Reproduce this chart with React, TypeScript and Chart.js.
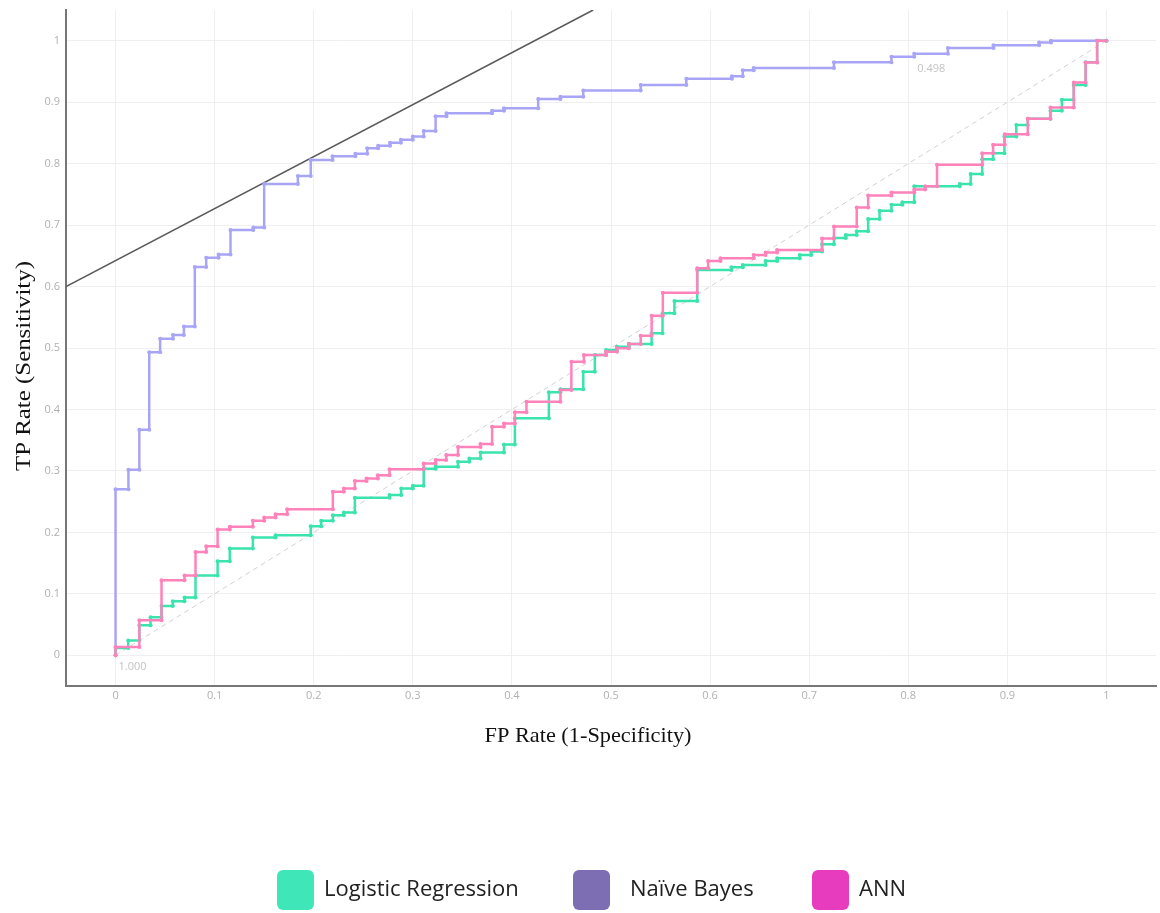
import { useEffect, useRef } from 'react';
import { Chart, registerables } from 'chart.js';

Chart.register(...registerables);

type Pt = [number, number];

// Axis ticks (both axes share the same 0..1 grid)
const axisTicks = [0, 0.1, 0.2, 0.3, 0.4, 0.5, 0.6, 0.7, 0.8, 0.9, 1];
const axisTickLabels = ['0', '0.1', '0.2', '0.3', '0.4', '0.5', '0.6', '0.7', '0.8', '0.9', '1'];

const seriesNames = ['Logistic Regression', 'Naïve Bayes', 'ANN'];
const lineColors = ['#3be3ad', '#a9a5f6', '#ff82ba'];
const legendColors = ['#3ee6b8', '#7d6db2', '#e83cbf'];

// ROC points: [FP rate, TP rate]
const logisticRoc: Pt[] = [
  [0, 0], [0, 0.012], [0.0128, 0.012], [0.0128, 0.024], [0.024, 0.024], [0.024, 0.049],
  [0.0353, 0.049], [0.0353, 0.062], [0.0464, 0.062], [0.0464, 0.08], [0.0578, 0.08], [0.0578, 0.088],
  [0.0696, 0.088], [0.0696, 0.094], [0.0807, 0.094], [0.0807, 0.13], [0.103, 0.13], [0.103, 0.153],
  [0.1153, 0.153], [0.1153, 0.1737], [0.1386, 0.1737], [0.1386, 0.1916], [0.1615, 0.1916], [0.1615, 0.1954],
  [0.197, 0.1954], [0.197, 0.21], [0.2075, 0.21], [0.2075, 0.2188], [0.2193, 0.2188], [0.2193, 0.228],
  [0.2304, 0.228], [0.2304, 0.2324], [0.2415, 0.2324], [0.2415, 0.2565], [0.2765, 0.2565], [0.2765, 0.2606],
  [0.2883, 0.2606], [0.2883, 0.2714], [0.3, 0.2714], [0.3, 0.2758], [0.311, 0.2758], [0.311, 0.3037],
  [0.323, 0.3037], [0.323, 0.3067], [0.3456, 0.3067], [0.3456, 0.315], [0.357, 0.315], [0.357, 0.3203],
  [0.3683, 0.3203], [0.3683, 0.33], [0.392, 0.33], [0.392, 0.343], [0.403, 0.343], [0.403, 0.3855],
  [0.4373, 0.3855], [0.4373, 0.428], [0.449, 0.428], [0.449, 0.4327], [0.472, 0.4327], [0.472, 0.4614],
  [0.4837, 0.4614], [0.4837, 0.4886], [0.495, 0.4886], [0.495, 0.4967], [0.506, 0.4967], [0.506, 0.502],
  [0.518, 0.502], [0.518, 0.5065], [0.541, 0.5065], [0.541, 0.524], [0.552, 0.524], [0.552, 0.5565],
  [0.564, 0.5565], [0.564, 0.5765], [0.587, 0.5765], [0.587, 0.627], [0.6216, 0.627], [0.6216, 0.6314],
  [0.633, 0.6314], [0.633, 0.635], [0.656, 0.635], [0.656, 0.6417], [0.6677, 0.6417], [0.6677, 0.646],
  [0.6905, 0.646], [0.6905, 0.6515], [0.702, 0.6515], [0.702, 0.657], [0.713, 0.657], [0.713, 0.669],
  [0.725, 0.669], [0.725, 0.679], [0.737, 0.679], [0.737, 0.684], [0.748, 0.684], [0.748, 0.69],
  [0.7595, 0.69], [0.7595, 0.71], [0.771, 0.71], [0.771, 0.7235], [0.783, 0.7235], [0.783, 0.733],
  [0.794, 0.733], [0.794, 0.737], [0.806, 0.737], [0.806, 0.763], [0.852, 0.763], [0.852, 0.7667],
  [0.863, 0.7667], [0.863, 0.783], [0.8746, 0.783], [0.8746, 0.807], [0.8856, 0.807], [0.8856, 0.817],
  [0.897, 0.817], [0.897, 0.844], [0.909, 0.844], [0.909, 0.863], [0.9206, 0.863], [0.9206, 0.873],
  [0.9435, 0.873], [0.9435, 0.886], [0.955, 0.886], [0.955, 0.904], [0.967, 0.904], [0.967, 0.928],
  [0.979, 0.928], [0.979, 0.965], [0.9906, 0.965], [0.9906, 1], [1, 1],
];

const naiveBayesRoc: Pt[] = [
  [0, 0], [0, 0.27], [0.013, 0.27], [0.013, 0.302], [0.024, 0.302], [0.024, 0.367],
  [0.034, 0.367], [0.034, 0.493], [0.045, 0.493], [0.045, 0.515], [0.058, 0.515], [0.058, 0.521],
  [0.069, 0.521], [0.069, 0.535], [0.08, 0.535], [0.08, 0.632], [0.0915, 0.632], [0.0915, 0.647],
  [0.104, 0.647], [0.104, 0.652], [0.116, 0.652], [0.116, 0.692], [0.139, 0.692], [0.139, 0.696],
  [0.15, 0.696], [0.15, 0.767], [0.184, 0.767], [0.184, 0.78], [0.197, 0.78], [0.197, 0.806],
  [0.219, 0.806], [0.219, 0.812], [0.242, 0.812], [0.242, 0.816], [0.254, 0.816], [0.254, 0.825],
  [0.265, 0.825], [0.265, 0.829], [0.277, 0.829], [0.277, 0.834], [0.288, 0.834], [0.288, 0.839],
  [0.3, 0.839], [0.3, 0.844], [0.311, 0.844], [0.311, 0.853], [0.323, 0.853], [0.323, 0.877],
  [0.334, 0.877], [0.334, 0.882], [0.38, 0.882], [0.38, 0.886], [0.392, 0.886], [0.392, 0.89],
  [0.4265, 0.89], [0.4265, 0.905], [0.449, 0.905], [0.449, 0.909], [0.472, 0.909], [0.472, 0.919],
  [0.53, 0.919], [0.53, 0.928], [0.576, 0.928], [0.576, 0.938], [0.622, 0.938], [0.622, 0.942],
  [0.633, 0.942], [0.633, 0.952], [0.644, 0.952], [0.644, 0.9555], [0.725, 0.9555], [0.725, 0.965],
  [0.783, 0.965], [0.783, 0.974], [0.806, 0.974], [0.806, 0.979], [0.84, 0.979], [0.84, 0.988],
  [0.886, 0.988], [0.886, 0.9925], [0.932, 0.9925], [0.932, 0.997], [0.944, 0.997], [0.944, 1], [1, 1],
];

const annRoc: Pt[] = [
  [0, 0], [0, 0.0136], [0.024, 0.0136], [0.024, 0.057], [0.0464, 0.057], [0.0464, 0.122],
  [0.0696, 0.122], [0.0696, 0.13], [0.0807, 0.13], [0.0807, 0.168], [0.0915, 0.168], [0.0915, 0.1775],
  [0.103, 0.1775], [0.103, 0.2047], [0.1153, 0.2047], [0.1153, 0.209], [0.1386, 0.209], [0.1386, 0.2188],
  [0.15, 0.2188], [0.15, 0.2242], [0.1615, 0.2242], [0.1615, 0.2296], [0.1732, 0.2296], [0.1732, 0.2378],
  [0.2193, 0.2378], [0.2193, 0.266], [0.2304, 0.266], [0.2304, 0.2714], [0.2415, 0.2714], [0.2415, 0.2834],
  [0.2533, 0.2834], [0.2533, 0.2877], [0.2647, 0.2877], [0.2647, 0.293], [0.2765, 0.293], [0.2765, 0.3029],
  [0.311, 0.3029], [0.311, 0.312], [0.323, 0.312], [0.323, 0.3176], [0.3337, 0.3176], [0.3337, 0.3257],
  [0.3456, 0.3257], [0.3456, 0.339], [0.3683, 0.339], [0.3683, 0.3436], [0.38, 0.3436], [0.38, 0.372],
  [0.392, 0.372], [0.392, 0.3773], [0.403, 0.3773], [0.403, 0.3953], [0.4147, 0.3953], [0.4147, 0.4126],
  [0.449, 0.4126], [0.449, 0.4316], [0.46, 0.4316], [0.46, 0.4777], [0.4726, 0.4777], [0.4726, 0.4886],
  [0.495, 0.4886], [0.495, 0.494], [0.506, 0.494], [0.506, 0.4995], [0.518, 0.4995], [0.518, 0.5065],
  [0.53, 0.5065], [0.53, 0.52], [0.541, 0.52], [0.541, 0.5526], [0.5523, 0.5526], [0.5523, 0.59],
  [0.587, 0.59], [0.587, 0.6297], [0.598, 0.6297], [0.598, 0.6417], [0.6105, 0.6417], [0.6105, 0.646],
  [0.644, 0.646], [0.644, 0.6515], [0.656, 0.6515], [0.656, 0.6556], [0.6676, 0.6556], [0.6676, 0.6596],
  [0.713, 0.6596], [0.713, 0.678], [0.725, 0.678], [0.725, 0.6976], [0.748, 0.6976], [0.748, 0.7285],
  [0.7595, 0.7285], [0.7595, 0.748], [0.783, 0.748], [0.783, 0.753], [0.806, 0.753], [0.806, 0.758],
  [0.817, 0.758], [0.817, 0.763], [0.829, 0.763], [0.829, 0.798], [0.8746, 0.798], [0.8746, 0.817],
  [0.8856, 0.817], [0.8856, 0.8306], [0.8974, 0.8306], [0.8974, 0.848], [0.9206, 0.848], [0.9206, 0.873],
  [0.9435, 0.873], [0.9435, 0.8915], [0.967, 0.8915], [0.967, 0.932], [0.979, 0.932], [0.979, 0.9647],
  [0.9906, 0.9647], [0.9906, 1], [1, 1],
];

// Chance diagonal and the iso-performance line touching the Naïve Bayes hull
const chanceLine: Pt[] = [[0, 0], [1, 1]];
const isoLine: Pt[] = [[-0.05, 0.6], [0.482, 1.05]];

// Threshold annotations placed at ROC points
const thresholdLabels = [
  { x: 0, y: 0, text: '1.000' },
  { x: 0.806, y: 0.974, text: '0.498' },
];

const toXY = (pts: Pt[]) => pts.map(([x, y]) => ({ x, y }));

// Draws text stretched along its baseline to a given length
function fitText(ctx: CanvasRenderingContext2D, text: string, length: number) {
  const w = ctx.measureText(text).width;
  ctx.save();
  ctx.scale(length / w, 1);
  ctx.fillText(text, 0, 0);
  ctx.restore();
}

// Legend item placement (box left edge, label left edge)
const legendBoxX = [277, 573, 812];
const legendTextX = [324, 630, 859];

const decorPlugin = {
  id: 'rocDecor',
  beforeDraw(chart: any) {
    const { ctx, width, height } = chart;
    ctx.save();
    ctx.fillStyle = '#ffffff';
    ctx.fillRect(0, 0, width, height);
    ctx.restore();
  },
  afterDraw(chart: any) {
    const { ctx } = chart;
    const xs = chart.scales.x;
    const ys = chart.scales.y;
    ctx.save();

    // threshold labels
    ctx.font = '11px "Open Sans"';
    ctx.fillStyle = '#c4c4c4';
    ctx.textAlign = 'left';
    ctx.textBaseline = 'middle';
    thresholdLabels.forEach((l) => {
      ctx.fillText(l.text, xs.getPixelForValue(l.x) + 3, ys.getPixelForValue(l.y) + 12);
    });

    // axis titles
    ctx.fillStyle = '#111111';
    ctx.font = '22px "Liberation Serif"';
    ctx.textAlign = 'center';
    ctx.textBaseline = 'middle';
    ctx.save();
    ctx.translate(588, 736);
    fitText(ctx, 'FP Rate (1-Specificity)', 207);
    ctx.restore();
    ctx.save();
    ctx.translate(24, 366);
    ctx.rotate(-Math.PI / 2);
    fitText(ctx, 'TP Rate (Sensitivity)', 210);
    ctx.restore();

    // legend
    ctx.font = '22px "Open Sans"';
    ctx.textAlign = 'left';
    ctx.textBaseline = 'middle';
    const boxW = 37;
    const boxH = 40;
    const boxY = 870;
    seriesNames.forEach((name, i) => {
      ctx.fillStyle = legendColors[i];
      ctx.beginPath();
      ctx.roundRect(legendBoxX[i], boxY, boxW, boxH, 6);
      ctx.fill();
      ctx.fillStyle = '#222222';
      ctx.fillText(name, legendTextX[i], boxY + boxH / 2);
    });
    ctx.restore();
  },
};

function makeSeries(label: string, pts: Pt[], color: string) {
  return {
    label,
    data: toXY(pts),
    borderColor: color,
    backgroundColor: color,
    borderWidth: 2.5,
    pointRadius: 2,
    pointBorderWidth: 0,
    pointBackgroundColor: color,
    tension: 0,
    fill: false,
  };
}

export default function App() {
  const canvasRef = useRef<HTMLCanvasElement | null>(null);

  useEffect(() => {
    if (!canvasRef.current) return;
    const chart = new Chart(canvasRef.current, {
      type: 'line',
      data: {
        datasets: [
          makeSeries(seriesNames[2], annRoc, lineColors[2]),
          makeSeries(seriesNames[0], logisticRoc, lineColors[0]),
          makeSeries(seriesNames[1], naiveBayesRoc, lineColors[1]),
          {
            label: 'iso',
            data: toXY(isoLine),
            borderColor: '#5a5a5a',
            borderWidth: 1.6,
            pointRadius: 0,
            fill: false,
          },
          {
            label: 'chance',
            data: toXY(chanceLine),
            borderColor: '#d2d2d2',
            borderWidth: 1,
            borderDash: [5, 4],
            pointRadius: 0,
            fill: false,
          },
        ],
      },
      options: {
        responsive: false,
        animation: false,
        layout: { padding: { top: 10, right: 3, left: 0, bottom: 0 } },
        plugins: {
          legend: { display: false },
          tooltip: { enabled: false },
        },
        events: [],
        scales: {
          x: {
            type: 'linear',
            min: -0.05,
            max: 1.05,
            afterBuildTicks: (s: any) => {
              s.ticks = axisTicks.map((v) => ({ value: v }));
            },
            afterFit: (s: any) => {
              s.height = 227;
              s.paddingLeft = 0;
              s.paddingRight = 0;
            },
            ticks: {
              padding: 3,
              color: '#b0b0b0',
              font: { family: '"Open Sans"', size: 11 },
              maxRotation: 0,
              callback: (_v: any, i: number) => axisTickLabels[i],
            },
            grid: { color: '#efefef', lineWidth: 1, drawTicks: false },
            border: { display: true, color: '#777777', width: 2 },
          },
          y: {
            type: 'linear',
            min: -0.05,
            max: 1.05,
            afterBuildTicks: (s: any) => {
              s.ticks = axisTicks.map((v) => ({ value: v }));
            },
            afterFit: (s: any) => {
              s.width = 66;
              s.paddingTop = 0;
              s.paddingBottom = 0;
            },
            ticks: {
              padding: 6,
              color: '#b0b0b0',
              font: { family: '"Open Sans"', size: 11 },
              callback: (_v: any, i: number) => axisTickLabels[i],
            },
            grid: { color: '#efefef', lineWidth: 1, drawTicks: false },
            border: { display: true, color: '#777777', width: 2 },
          },
        },
      },
      plugins: [decorPlugin],
    });
    return () => chart.destroy();
  }, []);

  return (
    <div style={{ position: 'absolute', left: 0, top: 0, width: 1160, height: 913, background: '#fff' }}>
      <canvas ref={canvasRef} width={1160} height={913} style={{ display: 'block' }} />
    </div>
  );
}
